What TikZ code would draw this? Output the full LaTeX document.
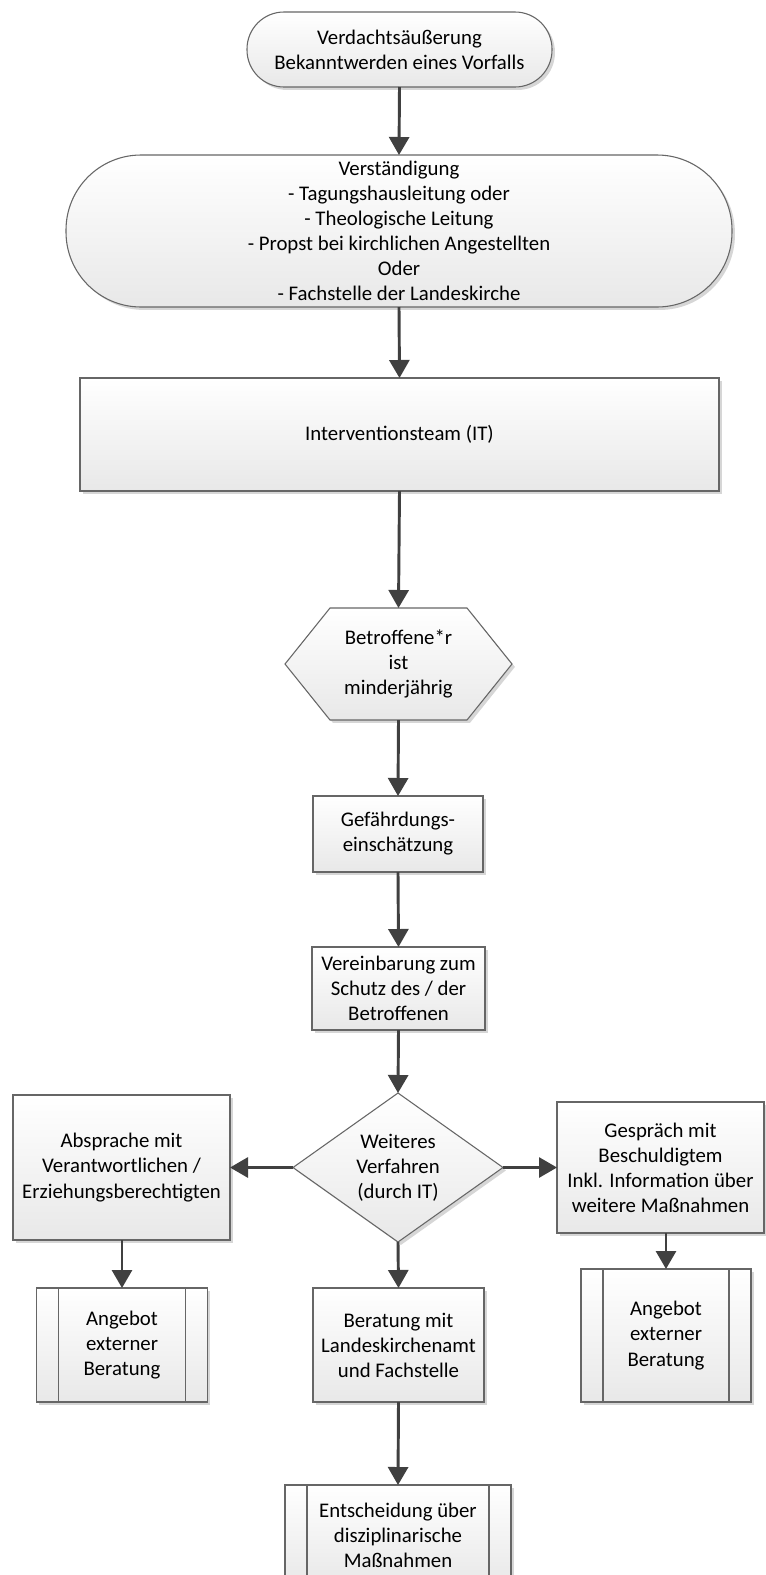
\documentclass[tikz,border=0pt]{standalone}
\usepackage{fontspec}
\setmainfont{Carlito}
\usetikzlibrary{arrows.meta,calc,shapes.geometric,shadows}
\newlength\pxu
\setlength\pxu{0.75pt}
\definecolor{arrowc}{HTML}{404040}
\definecolor{borderc}{HTML}{666666}
\tikzset{
  shapefill/.style={draw=borderc, line width=0.8pt, top color=white, bottom color=black!9,
    drop shadow={shadow xshift=2.2pt, shadow yshift=-2.2pt, fill=black, opacity=0.16}},
  txt/.style={inner sep=0pt, outer sep=0pt, align=center, font=\fontsize{15.6}{18.8}\selectfont},
  boxbase/.style={shapefill, txt},
  proc/.style={boxbase, rectangle},
  flow/.style={draw=arrowc, line width=2.2pt, -{Triangle[length=13.5pt,width=15pt]}},
  subline/.style={draw=borderc, line width=0.8pt},
}
\begin{document}
\begin{tikzpicture}[x=0.75pt,y=-0.75pt]
\fill[white] (0,0) rectangle (766,1575);
\useasboundingbox (0,0) rectangle (766,1575);

% terminators
\node[proc, minimum width=305\pxu, minimum height=75\pxu, rounded corners=37\pxu] (n1) at (399.5,49.5)
  {Verdachtsäußerung\\Bekanntwerden eines Vorfalls};
\node[proc, minimum width=666\pxu, minimum height=152\pxu, rounded corners=75\pxu] (n2) at (399,231)
  {Verständigung\\- Tagungshausleitung oder\\- Theologische Leitung\\- Propst bei kirchlichen Angestellten\\Oder\\- Fachstelle der Landeskirche};

% process
\node[proc, minimum width=639\pxu, minimum height=113\pxu] (n3) at (399.5,434.5) {Interventionsteam (IT)};

% hexagon
\coordinate (hc) at (398.5,664);
\path[shapefill] ($(hc)+(-68.5,-56)$) -- ($(hc)+(68.5,-56)$) -- ($(hc)+(113.5,0)$) -- ($(hc)+(68.5,56)$)
  -- ($(hc)+(-68.5,56)$) -- ($(hc)+(-113.5,0)$) -- cycle;
\node[txt, minimum width=137\pxu, minimum height=112\pxu] (hex) at (hc) {Betroffene*r\\ist\\minderjährig};

\node[proc, minimum width=170\pxu, minimum height=76\pxu] (gef) at (398,834) {Gefährdungs-\\einschätzung};
\node[proc, minimum width=173\pxu, minimum height=83\pxu] (ver) at (398.5,988.5) {Vereinbarung zum\\Schutz des / der\\Betroffenen};

% decision
\node[boxbase, diamond, aspect=1.41, minimum width=210\pxu, minimum height=149\pxu] (dia) at (398,1167.5)
  {Weiteres\\Verfahren\\(durch IT)};

\node[proc, minimum width=217\pxu, minimum height=145\pxu] (lbox) at (121.5,1167.5)
  {Absprache mit\\Verantwortlichen /\\Erziehungsberechtigten};
\node[proc, minimum width=207\pxu, minimum height=131\pxu] (rbox) at (660.5,1167.5)
  {Gespräch mit\\Beschuldigtem\\Inkl. Information über\\weitere Maßnahmen};

\node[proc, minimum width=171\pxu, minimum height=114\pxu] (lsub) at (122,1345) {Angebot\\externer\\Beratung};
\node[proc, minimum width=171\pxu, minimum height=114\pxu] (mid) at (398.5,1345)
  {Beratung mit\\Landeskirchenamt\\und Fachstelle};
\node[proc, minimum width=170\pxu, minimum height=133\pxu] (rsub) at (666,1335.5) {Angebot\\externer\\Beratung};
\node[proc, minimum width=226\pxu, minimum height=100\pxu] (bsub) at (398,1535)
  {Entscheidung über\\disziplinarische\\Maßnahmen};

% subprocess inner lines
\foreach \s in {lsub,rsub,bsub}{
  \draw[subline] ($(\s.north west)+(22,0)$) -- ($(\s.south west)+(22,0)$);
  \draw[subline] ($(\s.north east)+(-22,0)$) -- ($(\s.south east)+(-22,0)$);
}

% connectors
\draw[flow] (n1.south) -- (n2.north);
\draw[flow] (n2.south) -- (n3.north);
\draw[flow] (n3.south) -- (hex.north);
\draw[flow] (hex.south) -- (gef.north);
\draw[flow] (gef.south) -- (ver.north);
\draw[flow] (ver.south) -- (dia.north);
\draw[flow] (dia.west) -- (lbox.east);
\draw[flow] (dia.east) -- (rbox.west);
\draw[flow] (dia.south) -- (mid.north);
\draw[flow] (lsub.north |- lbox.south) -- (lsub.north);
\draw[flow] (rsub.north |- rbox.south) -- (rsub.north);
\draw[flow] (mid.south) -- (bsub.north);
\end{tikzpicture}
\end{document}
